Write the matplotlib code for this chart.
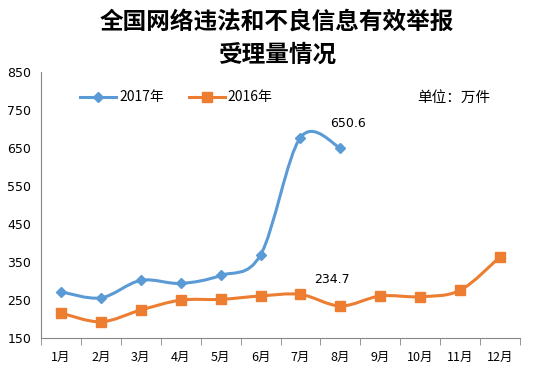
import numpy as np
import matplotlib
matplotlib.use("Agg")
from matplotlib import pyplot as plt
from matplotlib.path import Path
from matplotlib.patches import PathPatch
from matplotlib.lines import Line2D

plt.rcParams['font.family'] = ['Noto Sans CJK SC', 'DejaVu Sans']

months = ["1月", "2月", "3月", "4月", "5月", "6月", "7月", "8月", "9月", "10月", "11月", "12月"]
y2017 = [272, 256, 302, 294, 315, 369, 678, 650.6]
y2016 = [216, 193, 224, 250, 252, 261, 265, 234.7, 261, 259, 276, 364]
yticks = [150, 250, 350, 450, 550, 650, 750, 850]

blue = "#5B9BD5"
orange = "#ED7D31"


def smooth_path(xs, ys):
    # Excel-like smoothed line: cubic Bezier through every point
    pts = np.column_stack([xs, ys]).astype(float)
    n = len(pts)
    verts = [pts[0]]
    codes = [Path.MOVETO]
    for i in range(n - 1):
        p0 = pts[i - 1] if i > 0 else pts[i]
        p1 = pts[i]
        p2 = pts[i + 1]
        p3 = pts[i + 2] if i + 2 < n else pts[i + 1]
        c1 = p1 + (p2 - p0) / 6.0
        c2 = p2 - (p3 - p1) / 6.0
        verts += [c1, c2, p2]
        codes += [Path.CURVE4] * 3
    return Path(verts, codes)


fig = plt.figure(figsize=(5.34, 3.86), dpi=100)
ax = fig.add_axes([0.0768, 0.124, 0.897, 0.689])

x17 = np.arange(len(y2017))
x16 = np.arange(len(y2016))

ax.add_patch(PathPatch(smooth_path(x16, y2016), facecolor="none", edgecolor=orange, lw=2.2, zorder=2))
ax.add_patch(PathPatch(smooth_path(x17, y2017), facecolor="none", edgecolor=blue, lw=2.2, zorder=3))
ax.plot(x16, y2016, ls="none", marker="s", ms=7.5, color=orange, zorder=4)
ax.plot(x17, y2017, ls="none", marker="D", ms=5.5, color=blue, zorder=5)

ax.text(x17[-1] + 0.18, y2017[-1] + 65, "650.6", fontsize=9, ha="center", va="center", family="DejaVu Sans")
ax.text(x16[7] - 0.2, y2016[7] + 70, "234.7", fontsize=9, ha="center", va="center", family="DejaVu Sans")
ax.text(0.785, 0.905, "单位：万件", transform=ax.transAxes, fontsize=10.5, ha="left", va="center")

h17 = Line2D([], [], color=blue, lw=2.2, marker="D", ms=5)
h16 = Line2D([], [], color=orange, lw=2.2, marker="s", ms=6.5)
ax.legend([h17, h16], ["2017年", "2016年"], ncol=2, frameon=False, loc="center left",
          bbox_to_anchor=(0.07, 0.905), fontsize=10, handlelength=2.6, handletextpad=0.2,
          columnspacing=1.8, borderaxespad=0)

ax.set_xlim(-0.5, len(months) - 0.5)
ax.set_ylim(150, 850)
ax.set_yticks(yticks)
ax.set_xticks(x16)
ax.set_xticklabels(months)
ax.set_xticks(np.arange(-0.5, len(months)), minor=True)
ax.tick_params(axis="x", which="major", length=0, pad=9, labelsize=9)
ax.tick_params(axis="x", which="minor", length=5, color="#868686", direction="out")
ax.tick_params(axis="y", length=0, labelsize=9, pad=7)
for lab in ax.get_yticklabels():
    lab.set_family("DejaVu Sans")

for s in ["top", "right"]:
    ax.spines[s].set_visible(False)
for s in ["left", "bottom"]:
    ax.spines[s].set_color("#868686")
    ax.spines[s].set_linewidth(0.8)

fig.text(0.519, 0.943, "全国网络违法和不良信息有效举报", fontsize=17, fontweight="bold", ha="center", va="center")
fig.text(0.519, 0.858, "受理量情况", fontsize=17, fontweight="bold", ha="center", va="center")

fig.savefig("out.png", dpi=100)
